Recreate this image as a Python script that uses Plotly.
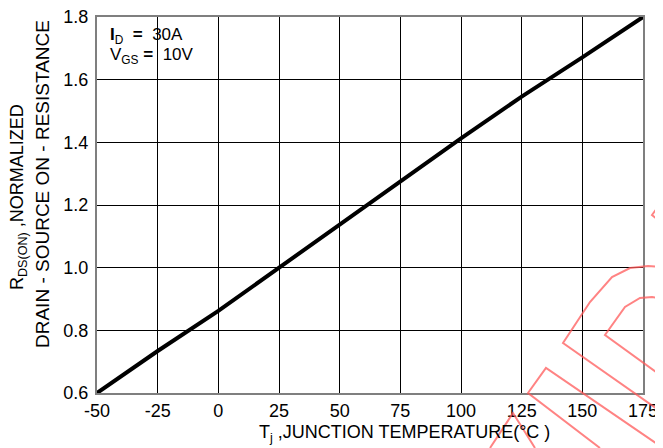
import plotly.graph_objects as go

# ── Data ─────────────────────────────────────────────────────────────────────
temp_c = [-50, -25, 0, 25, 50, 75, 100, 125, 150, 175]
rds_norm = [0.60, 0.734, 0.862, 1.00, 1.137, 1.278, 1.413, 1.546, 1.671, 1.80]

x_ticks = [-50, -25, 0, 25, 50, 75, 100, 125, 150, 175]
x_labels = ["-50", "-25", "0", "25", "50", "75", "100", "125", "150", "175"]
y_ticks = [0.6, 0.8, 1.0, 1.2, 1.4, 1.6, 1.8]
y_labels = ["0.6", "0.8", "1.0", "1.2", "1.4", "1.6", "1.8"]

FONT = "Liberation Sans, Arial, sans-serif"
# the page body has an 8px margin, so the figure is drawn 8px in from the corner
OFF = 8
W, H = 663 - OFF, 448 - OFF
L, R, T, B = 97 - OFF, 20, 17 - OFF, 55


def px2paper(px, py):
    """Pixel position in the screenshot -> paper coords of the plot area."""
    px, py = px - OFF, py - OFF
    return (px - L) / (W - L - R), (H - B - py) / (H - T - B)


def wm_path(points):
    segs = []
    for i, (px, py) in enumerate(points):
        x, y = px2paper(px, py)
        segs.append(("M" if i == 0 else "L") + f" {x:.4f},{y:.4f}")
    return " ".join(segs)


def note(px, py, text, size, **kw):
    x, y = px2paper(px, py)
    d = dict(xref="paper", yref="paper", x=x, y=y, text=text, showarrow=False,
             xanchor="center", yanchor="middle", font=dict(size=size))
    d.update(kw)
    return d


fig = go.Figure(go.Scatter(
    x=temp_c, y=rds_norm,
    mode="lines",
    line=dict(color="black", width=4),
    showlegend=False,
))

# red watermark fragments in the lower right corner
WM = "rgba(255,90,90,0.75)"
wm_shapes = [
    [(663, 413), (563, 343), (590, 302), (612, 277), (630, 268), (648, 266), (663, 267)],
    [(663, 377), (605, 335), (625, 307), (640, 298), (652, 297), (663, 299)],
    [(600, 448), (528, 393), (546, 368), (663, 448)],
    [(490, 448), (513, 413), (535, 448)],
    [(663, 200), (652, 215), (663, 224)],
]
shapes = [dict(type="path", xref="paper", yref="paper", path=wm_path(p),
               line=dict(color=WM, width=2), layer="above") for p in wm_shapes]

fig.update_layout(
    width=W, height=H,
    margin=dict(l=L, r=R, t=T, b=B),
    plot_bgcolor="white", paper_bgcolor="white",
    font=dict(family=FONT, color="black", size=17),
    xaxis=dict(
        range=[-50, 175], tickvals=x_ticks, ticktext=x_labels,
        showgrid=True, gridcolor="black", gridwidth=1,
        zeroline=False, automargin=False, ticklabeloverflow="allow",
        showline=True, mirror=True, linecolor="#7f7f7f", linewidth=2,
        ticks="", tickfont=dict(size=18),
    ),
    yaxis=dict(
        range=[0.6, 1.8], tickvals=y_ticks, ticktext=y_labels,
        showgrid=True, gridcolor="black", gridwidth=1,
        zeroline=False, automargin=False, ticklabeloverflow="allow",
        showline=True, mirror=True, linecolor="#7f7f7f", linewidth=2,
        ticks="outside", ticklen=3, tickcolor="rgba(0,0,0,0)",
        tickfont=dict(size=18),
    ),
    shapes=shapes,
    annotations=[
        note(18, 197, "R<sub>DS(ON)</sub> ,NORMALIZED", 18, textangle=-90),
        note(42, 184, "DRAIN - SOURCE ON - RESISTANCE", 19, textangle=-90),
        note(404, 433, "T<sub>j</sub> ,JUNCTION TEMPERATURE(°C )", 18),
        note(108, 36, "<b>I</b><sub>D</sub>  <b>=</b>  30A", 17, xanchor="left"),
        note(108, 56, "V<sub>GS</sub> <b>=</b>  10V", 17, xanchor="left"),
    ],
)

fig.write_html("out.html")
